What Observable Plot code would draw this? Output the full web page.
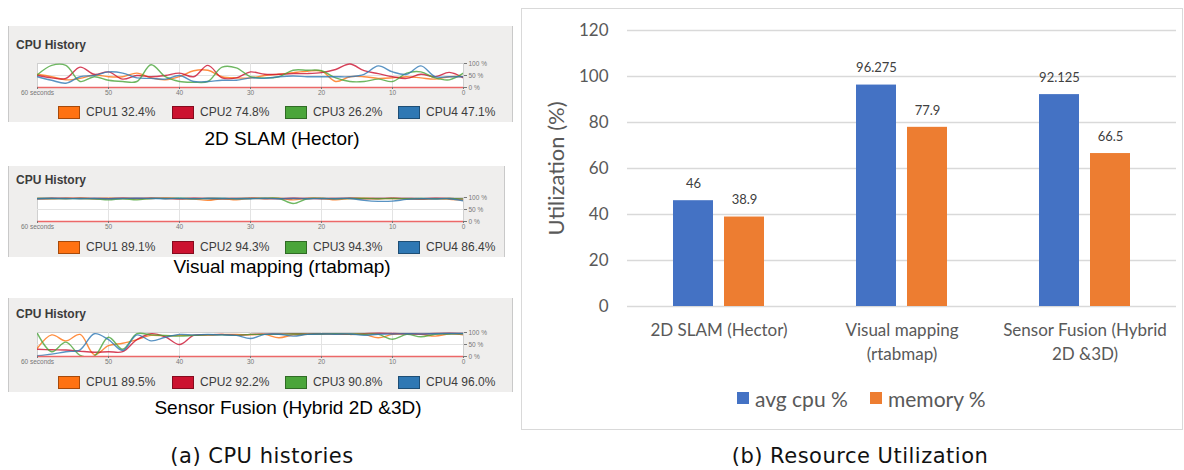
<!DOCTYPE html>
<html><head><meta charset="utf-8">
<script src="https://cdn.jsdelivr.net/npm/d3@7"></script>
<script src="https://cdn.jsdelivr.net/npm/@observablehq/plot@0.6"></script>
<style>
html,body{margin:0;padding:0;}
body{width:1184px;height:470px;position:relative;background:#fff;overflow:hidden;font-family:"Liberation Sans",Arial,sans-serif;}
.abs{position:absolute;white-space:nowrap;line-height:1;}
.panel{position:absolute;background:#efeeed;border-left:1px solid #c9c9c9;border-right:1px solid #c9c9c9;box-sizing:border-box;}
.sw{position:absolute;box-sizing:border-box;border:1px solid rgba(0,0,0,0.35);}
svg{position:absolute;}
</style></head><body>
<script>
// ---------- CPU history data (seconds ago, sampled every 2 s) ----------
const seconds = [60,58,56,54,52,50,48,46,44,42,40,38,36,34,32,30,28,26,24,22,20,18,16,14,12,10,8,6,4,2,0];
const cpuNames = ["CPU1","CPU2","CPU3","CPU4"];
const cpuColors = ["#ff7212","#cc1230","#4aa53a","#2f78b4"];
const xTicks = [60,50,40,30,20,10,0];

const hectorCPU1 = [55,45,32,38,52,45,45,60,40,32,45,70,72,45,40,40,50,55,62,68,68,25,45,45,38,40,45,40,35,45,45];
const hectorCPU2 = [50,40,38,85,55,65,35,50,45,50,60,45,92,40,40,65,55,55,58,58,62,75,98,70,58,45,38,55,45,63,40];
const hectorCPU3 = [53,92,92,25,45,30,25,25,95,45,25,22,25,85,82,45,40,45,72,72,70,40,25,25,35,25,60,65,40,32,60];
const hectorCPU4 = [45,30,18,45,50,65,60,40,38,35,50,25,25,30,30,40,38,45,48,45,45,45,45,55,90,65,55,90,45,45,45];
const hectorLegend = ["32.4%","74.8%","26.2%","47.1%"];

const rtabCPU1 = [96,95,97,96,95,97,96,95,96,97,95,94,88,95,90,96,95,97,90,96,97,90,96,97,95,96,94,92,95,93,89];
const rtabCPU2 = [95,97,96,97,96,95,97,96,97,96,95,97,96,95,96,97,96,95,97,96,95,96,97,95,96,97,96,95,97,96,94];
const rtabCPU3 = [96,96,95,96,95,90,95,90,96,96,97,95,96,96,95,96,97,96,75,95,96,95,96,96,95,96,95,96,95,96,94];
const rtabCPU4 = [95,96,96,95,96,95,96,97,96,95,96,95,96,96,95,95,96,95,96,95,96,95,96,88,84,85,92,95,94,95,86];
const rtabLegend = ["89.1%","94.3%","94.3%","86.4%"];

const fusionCPU1 = [35,90,65,92,8,45,55,70,88,85,88,88,90,92,92,90,92,78,90,92,93,94,92,92,78,92,93,92,85,94,90];
const fusionCPU2 = [30,28,27,22,18,20,20,70,95,82,50,88,90,92,88,92,93,94,95,94,95,94,93,95,97,96,95,94,96,97,96];
const fusionCPU3 = [95,20,60,5,2,80,30,95,90,88,85,88,90,90,88,92,92,93,94,93,94,95,94,93,92,72,92,82,93,94,95];
const fusionCPU4 = [3,10,20,28,95,70,25,90,65,80,92,90,92,90,88,75,92,93,85,92,94,93,94,88,93,94,95,94,95,96,96];
const fusionLegend = ["89.5%","92.2%","90.8%","96.0%"];

const panelCaptions = ["2D SLAM (Hector)","Visual mapping (rtabmap)","Sensor Fusion (Hybrid 2D &3D)"];

// ---------- Resource utilization data ----------
const categories = ["2D SLAM (Hector)","Visual mapping (rtabmap)","Sensor Fusion (Hybrid 2D &3D)"];
const categoryTickLabels = ["2D SLAM (Hector)","Visual mapping\n(rtabmap)","Sensor Fusion (Hybrid\n2D &3D)"];
const seriesNames = ["avg cpu %","memory %"];
const seriesColors = ["#4472c4","#ed7d31"];
const avgCpu = [46, 96.275, 92.125];
const memory = [38.9, 77.9, 66.5];
const yTicks = [0,20,40,60,80,100,120];

const figureCaptions = ["(a) CPU histories","(b) Resource Utilization"];

// ---------- helpers ----------
function text(str, x, y, opts = {}) {
  const d = document.createElement("div");
  d.className = "abs";
  d.textContent = str;
  d.style.left = x + "px";
  d.style.top = y + "px";
  const tx = opts.center ? "-50%" : "0";
  d.style.transform = `translate(${tx},-50%)`;
  d.style.fontSize = (opts.size || 12) + "px";
  if (opts.weight) d.style.fontWeight = opts.weight;
  if (opts.family) d.style.fontFamily = opts.family;
  if (opts.ls) d.style.letterSpacing = opts.ls;
  d.style.color = opts.color || "#000";
  document.body.appendChild(d);
  return d;
}
function box(cls, x, y, w, h, style = {}) {
  const d = document.createElement("div");
  d.className = cls;
  Object.assign(d.style, {left: x + "px", top: y + "px", width: w + "px", height: h + "px"}, style);
  document.body.appendChild(d);
  return d;
}

function cpuPlot(series) {
  const rows = [];
  series.forEach((vals, k) => vals.forEach((v, i) => rows.push({t: seconds[i], v, cpu: cpuNames[k]})));
  return Plot.plot({
    width: 520, height: 42, marginLeft: 37, marginRight: 57, marginTop: 4, marginBottom: 14,
    style: {background: "transparent", fontFamily: "Liberation Sans, Arial, sans-serif", overflow: "visible"},
    x: {domain: [60, 0]},
    y: {domain: [0, 100]},
    color: {domain: cpuNames, range: cpuColors},
    marks: [
      Plot.frame({fill: "white", stroke: "#d0d0d0"}),
      Plot.ruleX(xTicks.slice(1, -1), {stroke: "#e3e3e3"}),
      Plot.ruleY([50], {stroke: "#e3e3e3"}),
      Plot.lineY(rows, {x: "t", y: "v", z: "cpu", stroke: "cpu", strokeWidth: 1.4, strokeOpacity: 0.8, curve: "catmull-rom", clip: true}),
      Plot.ruleY([0], {stroke: "#ec6868", strokeWidth: 1.6}),
      Plot.axisX({ticks: xTicks, tickSize: 2, tickPadding: 1, fontSize: 6.5, color: "#777", tickFormat: d => d === 60 ? "60 seconds" : String(d), label: null}),
      Plot.axisY({anchor: "right", ticks: [0, 50, 100], tickSize: 3, tickPadding: 2, fontSize: 6.5, color: "#777", tickFormat: d => d + " %", label: null})
    ]
  });
}

// ---------- left: CPU history panels ----------
const panels = [
  {series: [hectorCPU1, hectorCPU2, hectorCPU3, hectorCPU4], legend: hectorLegend, bg: [8, 26, 505, 96], title: 45, svgTop: 59, legY: 112, cap: [282, 138]},
  {series: [rtabCPU1, rtabCPU2, rtabCPU3, rtabCPU4], legend: rtabLegend, bg: [8, 166, 497, 91], title: 180, svgTop: 193, legY: 247, cap: [282, 266]},
  {series: [fusionCPU1, fusionCPU2, fusionCPU3, fusionCPU4], legend: fusionLegend, bg: [8, 298, 505, 94], title: 314, svgTop: 328, legY: 382, cap: [288, 407]}
];
const swatchX = [58, 172, 285, 398];
panels.forEach((p, i) => {
  box("panel", ...p.bg);
  text("CPU History", 16, p.title, {size: 12, weight: "bold", color: "#3c3c3c"});
  const svg = cpuPlot(p.series);
  svg.style.left = "0px";
  svg.style.top = p.svgTop + "px";
  document.body.appendChild(svg);
  cpuNames.forEach((n, k) => {
    box("sw", swatchX[k], p.legY - 6.5, 22, 13, {background: cpuColors[k]});
    text(n + " " + p.legend[k], swatchX[k] + 28, p.legY, {size: 12, color: "#3c3c3c"});
  });
  text(panelCaptions[i], p.cap[0], p.cap[1], {size: 19, center: true, color: "#000"});
});

// ---------- right: resource utilization ----------
box("abs", 521, 8, 662, 422, {border: "1px solid #d9d9d9", boxSizing: "border-box"});
const rows = categories.flatMap((c, i) => [
  {category: c, series: seriesNames[0], value: avgCpu[i]},
  {category: c, series: seriesNames[1], value: memory[i]}
]);
const chartFont = "Lato, 'Liberation Sans', sans-serif";
const bar = Plot.plot({
  width: 663, height: 358, marginLeft: 105, marginRight: 8, marginTop: 22, marginBottom: 60,
  style: {background: "transparent", fontFamily: chartFont, overflow: "visible"},
  fx: {domain: categories, padding: 0},
  x: {domain: seriesNames, paddingInner: 0.21, paddingOuter: 0.868, axis: null},
  y: {domain: [0, 120]},
  color: {domain: seriesNames, range: seriesColors},
  marks: [
    Plot.ruleY(yTicks, {stroke: "#d9d9d9", strokeWidth: 1.3}),
    Plot.barY(rows, {fx: "category", x: "series", y: "value", fill: "series"}),
    Plot.text(rows, {fx: "category", x: "series", y: "value", text: d => String(d.value), dy: -17, fontSize: 13, fill: "#404040"}),
    Plot.axisY({ticks: yTicks, tickSize: 0, tickPadding: 19, fontSize: 17, color: "#595959", label: null}),
    Plot.axisY({ticks: [], label: "Utilization (%)", labelAnchor: "center", labelArrow: "none", labelOffset: 79, fontSize: 22, color: "#595959"}),
    Plot.axisFx({anchor: "bottom", tickSize: 0, tickPadding: 13, fontSize: 17, color: "#595959", lineHeight: 1.4, tickFormat: d => categoryTickLabels[categories.indexOf(d)], label: null})
  ]
});
bar.style.left = "521px";
bar.style.top = "8px";
document.body.appendChild(bar);

// legend
const legX = [737, 870];
seriesNames.forEach((n, k) => {
  box("abs", legX[k], 392, 12, 12, {background: seriesColors[k]});
  text(n, legX[k] + 18, 398, {size: 21, color: "#595959", family: chartFont});
});

// figure captions
text(figureCaptions[0], 262, 456, {size: 21, center: true, family: "'DejaVu Sans', sans-serif", color: "#111", ls: "0.5px"});
text(figureCaptions[1], 860, 456, {size: 21, center: true, family: "'DejaVu Sans', sans-serif", color: "#111", ls: "0.5px"});
</script>
</body></html>
